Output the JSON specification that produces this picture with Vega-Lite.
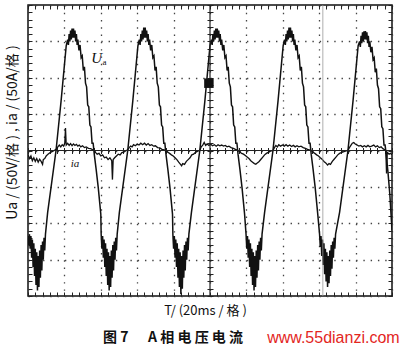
{
  "$schema": "https://vega.github.io/schema/vega-lite/v6.json",
  "width": 364,
  "height": 291,
  "autosize": {"type": "none"},
  "padding": {"left": 28, "top": 5, "right": 10, "bottom": 56},
  "background": "white",
  "config": {"view": {"stroke": "#111", "strokeWidth": 1.5}},
  "datasets": {
    "uk": [
      {"x":0,"y":-2.35},{"x":0.02,"y":-2.6},{"x":0.04,"y":-2.3},{"x":0.06,"y":-2.7},{"x":0.08,"y":-2.35},{"x":0.1,"y":-2.95},{"x":0.12,"y":-2.45},{"x":0.14,"y":-3.2},{"x":0.16,"y":-2.55},{"x":0.18,"y":-3.45},{"x":0.2,"y":-2.7},{"x":0.22,"y":-3.7},{"x":0.24,"y":-2.8},{"x":0.26,"y":-3.85},{"x":0.28,"y":-2.9},{"x":0.3,"y":-3.75},{"x":0.32,"y":-2.75},{"x":0.34,"y":-3.5},{"x":0.36,"y":-2.6},{"x":0.38,"y":-3.3},{"x":0.4,"y":-2.5},{"x":0.42,"y":-3.0},{"x":0.44,"y":-2.4},{"x":0.46,"y":-2.75},{"x":0.48,"y":-2.3},
      {"x":0.54,"y":-1.7},{"x":0.77,"y":0},{"x":0.91,"y":1.37},{"x":1.05,"y":2.88},
      {"x":1.09,"y":3.05},{"x":1.11,"y":2.9},{"x":1.13,"y":3.2},{"x":1.15,"y":3.0},{"x":1.17,"y":3.3},{"x":1.19,"y":3.05},{"x":1.21,"y":3.35},{"x":1.23,"y":3.1},{"x":1.25,"y":3.35},{"x":1.27,"y":3.1},{"x":1.29,"y":3.3},{"x":1.31,"y":3.0},{"x":1.33,"y":3.2},{"x":1.35,"y":2.9},{"x":1.37,"y":3.05},{"x":1.4,"y":2.75},{"x":1.43,"y":2.9},{"x":1.46,"y":2.55},{"x":1.49,"y":2.6},{"x":1.52,"y":2.2},{"x":1.55,"y":2.3},{"x":1.58,"y":1.85},{"x":1.61,"y":1.75},{"x":1.64,"y":1.25},{"x":1.67,"y":1.2},{"x":1.7,"y":0.7},{"x":1.73,"y":0.65},{"x":1.76,"y":0.2},{"x":1.79,"y":0.2},{"x":1.82,"y":-0.1},{"x":1.87,"y":-0.5},{"x":1.93,"y":-1.02},{"x":2.0,"y":-1.75},
      {"x":2.01,"y":-2.3},{"x":2.03,"y":-2.7},{"x":2.05,"y":-2.35},{"x":2.07,"y":-2.95},{"x":2.09,"y":-2.45},{"x":2.11,"y":-3.2},{"x":2.13,"y":-2.55},{"x":2.15,"y":-3.45},{"x":2.17,"y":-2.7},{"x":2.19,"y":-3.7},{"x":2.21,"y":-2.8},{"x":2.23,"y":-3.85},{"x":2.25,"y":-2.9},{"x":2.27,"y":-3.75},{"x":2.29,"y":-2.75},{"x":2.31,"y":-3.5},{"x":2.33,"y":-2.6},{"x":2.35,"y":-3.3},{"x":2.37,"y":-2.5},{"x":2.39,"y":-3.0},{"x":2.41,"y":-2.4},{"x":2.43,"y":-2.75},{"x":2.45,"y":-2.3},
      {"x":2.51,"y":-1.7},{"x":2.74,"y":0},{"x":2.88,"y":1.37},{"x":3.02,"y":2.88},
      {"x":3.06,"y":3.05},{"x":3.08,"y":2.9},{"x":3.1,"y":3.2},{"x":3.12,"y":3.0},{"x":3.14,"y":3.3},{"x":3.16,"y":3.05},{"x":3.18,"y":3.38},{"x":3.2,"y":3.1},{"x":3.22,"y":3.38},{"x":3.24,"y":3.1},{"x":3.26,"y":3.3},{"x":3.28,"y":3.0},{"x":3.3,"y":3.2},{"x":3.32,"y":2.9},{"x":3.34,"y":3.05},{"x":3.37,"y":2.75},{"x":3.4,"y":2.9},{"x":3.43,"y":2.55},{"x":3.46,"y":2.6},{"x":3.49,"y":2.2},{"x":3.52,"y":2.3},{"x":3.55,"y":1.85},{"x":3.58,"y":1.75},{"x":3.61,"y":1.25},{"x":3.64,"y":1.2},{"x":3.67,"y":0.7},{"x":3.7,"y":0.65},{"x":3.73,"y":0.2},{"x":3.76,"y":0.2},{"x":3.79,"y":-0.1},{"x":3.84,"y":-0.5},{"x":3.9,"y":-1.02},{"x":3.97,"y":-1.75},
      {"x":3.98,"y":-2.3},{"x":4.0,"y":-2.7},{"x":4.02,"y":-2.35},{"x":4.04,"y":-2.95},{"x":4.06,"y":-2.45},{"x":4.08,"y":-3.2},{"x":4.1,"y":-2.55},{"x":4.12,"y":-3.5},{"x":4.14,"y":-2.7},{"x":4.16,"y":-3.75},{"x":4.18,"y":-2.8},{"x":4.2,"y":-3.95},{"x":4.22,"y":-2.9},{"x":4.24,"y":-3.8},{"x":4.26,"y":-2.75},{"x":4.28,"y":-3.5},{"x":4.3,"y":-2.6},{"x":4.32,"y":-3.3},{"x":4.34,"y":-2.5},{"x":4.36,"y":-3.0},{"x":4.38,"y":-2.4},{"x":4.4,"y":-2.75},{"x":4.42,"y":-2.3},
      {"x":4.49,"y":-1.7},{"x":4.72,"y":0},{"x":4.86,"y":1.37},{"x":5.0,"y":2.88},
      {"x":5.04,"y":3.05},{"x":5.06,"y":2.9},{"x":5.08,"y":3.2},{"x":5.1,"y":3.0},{"x":5.12,"y":3.3},{"x":5.14,"y":3.05},{"x":5.16,"y":3.35},{"x":5.18,"y":3.1},{"x":5.2,"y":3.35},{"x":5.22,"y":3.1},{"x":5.24,"y":3.3},{"x":5.26,"y":3.0},{"x":5.28,"y":3.2},{"x":5.3,"y":2.9},{"x":5.32,"y":3.05},{"x":5.35,"y":2.75},{"x":5.38,"y":2.9},{"x":5.41,"y":2.55},{"x":5.44,"y":2.6},{"x":5.47,"y":2.2},{"x":5.5,"y":2.3},{"x":5.53,"y":1.85},{"x":5.56,"y":1.75},{"x":5.59,"y":1.25},{"x":5.62,"y":1.2},{"x":5.65,"y":0.7},{"x":5.68,"y":0.65},{"x":5.71,"y":0.2},{"x":5.74,"y":0.2},{"x":5.77,"y":-0.1},{"x":5.82,"y":-0.5},{"x":5.88,"y":-1.02},{"x":5.95,"y":-1.75},
      {"x":5.99,"y":-2.3},{"x":6.01,"y":-2.7},{"x":6.03,"y":-2.35},{"x":6.05,"y":-2.95},{"x":6.07,"y":-2.45},{"x":6.09,"y":-3.2},{"x":6.11,"y":-2.55},{"x":6.13,"y":-3.45},{"x":6.15,"y":-2.7},{"x":6.17,"y":-3.7},{"x":6.19,"y":-2.8},{"x":6.21,"y":-3.85},{"x":6.23,"y":-2.9},{"x":6.25,"y":-3.75},{"x":6.27,"y":-2.75},{"x":6.29,"y":-3.5},{"x":6.31,"y":-2.6},{"x":6.33,"y":-3.3},{"x":6.35,"y":-2.5},{"x":6.37,"y":-3.0},{"x":6.39,"y":-2.4},{"x":6.41,"y":-2.75},{"x":6.43,"y":-2.3},
      {"x":6.5,"y":-1.7},{"x":6.73,"y":0},{"x":6.87,"y":1.37},{"x":7.01,"y":2.88},
      {"x":7.05,"y":3.05},{"x":7.07,"y":2.9},{"x":7.09,"y":3.2},{"x":7.11,"y":3.0},{"x":7.13,"y":3.3},{"x":7.15,"y":3.05},{"x":7.17,"y":3.38},{"x":7.19,"y":3.1},{"x":7.21,"y":3.38},{"x":7.23,"y":3.1},{"x":7.25,"y":3.3},{"x":7.27,"y":3.0},{"x":7.29,"y":3.2},{"x":7.31,"y":2.9},{"x":7.33,"y":3.05},{"x":7.36,"y":2.75},{"x":7.39,"y":2.9},{"x":7.42,"y":2.55},{"x":7.45,"y":2.6},{"x":7.48,"y":2.2},{"x":7.51,"y":2.3},{"x":7.54,"y":1.85},{"x":7.57,"y":1.75},{"x":7.6,"y":1.25},{"x":7.63,"y":1.2},{"x":7.66,"y":0.7},{"x":7.69,"y":0.65},{"x":7.72,"y":0.2},{"x":7.75,"y":0.2},{"x":7.78,"y":-0.1},{"x":7.83,"y":-0.5},{"x":7.89,"y":-1.02},{"x":7.96,"y":-1.75},
      {"x":8.01,"y":-2.3},{"x":8.03,"y":-2.65},{"x":8.05,"y":-2.35},{"x":8.07,"y":-2.9},{"x":8.09,"y":-2.45},{"x":8.11,"y":-3.15},{"x":8.13,"y":-2.55},{"x":8.15,"y":-3.4},{"x":8.17,"y":-2.7},{"x":8.19,"y":-3.6},{"x":8.21,"y":-2.8},{"x":8.23,"y":-3.75},{"x":8.25,"y":-2.9},{"x":8.27,"y":-3.65},{"x":8.29,"y":-2.75},{"x":8.31,"y":-3.45},{"x":8.33,"y":-2.6},{"x":8.35,"y":-3.25},{"x":8.37,"y":-2.5},{"x":8.39,"y":-2.95},{"x":8.41,"y":-2.4},{"x":8.43,"y":-2.7},{"x":8.45,"y":-2.3},
      {"x":8.56,"y":-1.7},{"x":8.79,"y":0},{"x":8.93,"y":1.37},{"x":9.07,"y":2.88},
      {"x":9.11,"y":3.0},{"x":9.13,"y":2.85},{"x":9.15,"y":3.15},{"x":9.17,"y":2.95},{"x":9.19,"y":3.25},{"x":9.21,"y":3.0},{"x":9.23,"y":3.28},{"x":9.25,"y":3.05},{"x":9.27,"y":3.28},{"x":9.29,"y":3.05},{"x":9.31,"y":3.25},{"x":9.33,"y":2.95},{"x":9.35,"y":3.15},{"x":9.37,"y":2.85},{"x":9.39,"y":3.0},{"x":9.42,"y":2.7},{"x":9.45,"y":2.85},{"x":9.48,"y":2.5},{"x":9.51,"y":2.55},{"x":9.54,"y":2.15},{"x":9.57,"y":2.25},{"x":9.6,"y":1.8},{"x":9.63,"y":1.7},{"x":9.66,"y":1.2},{"x":9.69,"y":1.15},{"x":9.72,"y":0.65},{"x":9.75,"y":0.6},{"x":9.78,"y":0.15},{"x":9.81,"y":0.15},{"x":9.84,"y":-0.1},{"x":9.89,"y":-0.6},{"x":9.94,"y":-1.2},{"x":10,"y":-2.2}
    ],
    "ia": [
      {"x":0,"y":-0.12},{"x":0.04,"y":-0.22},{"x":0.08,"y":-0.15},{"x":0.12,"y":-0.28},{"x":0.16,"y":-0.2},{"x":0.2,"y":-0.3},{"x":0.24,"y":-0.22},{"x":0.28,"y":-0.32},{"x":0.32,"y":-0.24},{"x":0.36,"y":-0.3},{"x":0.4,"y":-0.38},{"x":0.42,"y":-0.25},{"x":0.46,"y":-0.22},{"x":0.5,"y":-0.15},{"x":0.55,"y":-0.1},{"x":0.6,"y":-0.06},{"x":0.66,"y":-0.03},{"x":0.72,"y":0},{"x":0.77,"y":0.03},
      {"x":0.82,"y":0.1},{"x":0.86,"y":0.15},{"x":0.9,"y":0.1},{"x":0.94,"y":0.16},{"x":0.98,"y":0.12},{"x":1.01,"y":0.2},{"x":1.03,"y":0.62},{"x":1.05,"y":0.15},{"x":1.09,"y":0.2},{"x":1.13,"y":0.14},{"x":1.17,"y":0.19},{"x":1.21,"y":0.13},{"x":1.25,"y":0.18},{"x":1.29,"y":0.14},{"x":1.33,"y":0.17},{"x":1.37,"y":0.12},{"x":1.41,"y":0.15},{"x":1.45,"y":0.1},{"x":1.5,"y":0.13},{"x":1.55,"y":0.08},{"x":1.6,"y":0.1},{"x":1.66,"y":0.06},{"x":1.72,"y":0.05},{"x":1.78,"y":0.02},{"x":1.82,"y":0},
      {"x":1.86,"y":-0.06},{"x":1.9,"y":-0.1},{"x":1.95,"y":-0.08},{"x":2.0,"y":-0.15},{"x":2.05,"y":-0.12},{"x":2.1,"y":-0.2},{"x":2.15,"y":-0.18},{"x":2.2,"y":-0.25},{"x":2.25,"y":-0.2},{"x":2.3,"y":-0.28},{"x":2.32,"y":-0.8},{"x":2.34,"y":-0.25},{"x":2.38,"y":-0.2},{"x":2.43,"y":-0.15},{"x":2.48,"y":-0.1},{"x":2.53,"y":-0.12},{"x":2.58,"y":-0.06},{"x":2.64,"y":-0.04},{"x":2.7,"y":0},{"x":2.74,"y":0.02},
      {"x":2.78,"y":0.08},{"x":2.82,"y":0.12},{"x":2.86,"y":0.1},{"x":2.9,"y":0.16},{"x":2.95,"y":0.13},{"x":3.0,"y":0.18},{"x":3.05,"y":0.15},{"x":3.1,"y":0.2},{"x":3.15,"y":0.16},{"x":3.2,"y":0.2},{"x":3.25,"y":0.15},{"x":3.3,"y":0.19},{"x":3.35,"y":0.14},{"x":3.4,"y":0.16},{"x":3.45,"y":0.12},{"x":3.5,"y":0.13},{"x":3.56,"y":0.08},{"x":3.62,"y":0.07},{"x":3.68,"y":0.03},{"x":3.74,"y":0.02},{"x":3.79,"y":0},
      {"x":3.84,"y":-0.05},{"x":3.89,"y":-0.08},{"x":3.94,"y":-0.12},{"x":3.99,"y":-0.15},{"x":4.04,"y":-0.2},{"x":4.09,"y":-0.25},{"x":4.14,"y":-0.32},{"x":4.19,"y":-0.38},{"x":4.22,"y":-0.42},{"x":4.25,"y":-0.36},{"x":4.3,"y":-0.38},{"x":4.35,"y":-0.3},{"x":4.4,"y":-0.25},{"x":4.45,"y":-0.2},{"x":4.5,"y":-0.12},{"x":4.55,"y":-0.1},{"x":4.6,"y":-0.05},{"x":4.66,"y":-0.02},{"x":4.72,"y":0},
      {"x":4.76,"y":0.1},{"x":4.8,"y":0.15},{"x":4.84,"y":0.22},{"x":4.88,"y":0.14},{"x":4.92,"y":0.18},{"x":4.97,"y":0.14},{"x":5.02,"y":0.17},{"x":5.07,"y":0.13},{"x":5.12,"y":0.16},{"x":5.17,"y":0.12},{"x":5.22,"y":0.16},{"x":5.27,"y":0.13},{"x":5.32,"y":0.15},{"x":5.37,"y":0.12},{"x":5.42,"y":0.14},{"x":5.47,"y":0.1},{"x":5.52,"y":0.12},{"x":5.58,"y":0.08},{"x":5.64,"y":0.06},{"x":5.7,"y":0.03},{"x":5.77,"y":0},
      {"x":5.82,"y":-0.04},{"x":5.87,"y":-0.08},{"x":5.92,"y":-0.1},{"x":5.97,"y":-0.14},{"x":6.02,"y":-0.18},{"x":6.07,"y":-0.22},{"x":6.12,"y":-0.28},{"x":6.17,"y":-0.32},{"x":6.22,"y":-0.36},{"x":6.26,"y":-0.38},{"x":6.3,"y":-0.34},{"x":6.35,"y":-0.3},{"x":6.4,"y":-0.24},{"x":6.45,"y":-0.18},{"x":6.5,"y":-0.12},{"x":6.55,"y":-0.08},{"x":6.6,"y":-0.05},{"x":6.66,"y":-0.02},{"x":6.73,"y":0},
      {"x":6.77,"y":0.08},{"x":6.81,"y":0.14},{"x":6.85,"y":0.1},{"x":6.89,"y":0.16},{"x":6.94,"y":0.12},{"x":6.99,"y":0.15},{"x":7.04,"y":0.12},{"x":7.09,"y":0.16},{"x":7.14,"y":0.12},{"x":7.19,"y":0.15},{"x":7.24,"y":0.11},{"x":7.29,"y":0.14},{"x":7.34,"y":0.1},{"x":7.39,"y":0.13},{"x":7.44,"y":0.1},{"x":7.5,"y":0.12},{"x":7.56,"y":0.08},{"x":7.62,"y":0.06},{"x":7.68,"y":0.03},{"x":7.73,"y":0.02},{"x":7.78,"y":0},
      {"x":7.83,"y":-0.05},{"x":7.88,"y":-0.08},{"x":7.93,"y":-0.12},{"x":7.98,"y":-0.15},{"x":8.03,"y":-0.2},{"x":8.08,"y":-0.24},{"x":8.13,"y":-0.3},{"x":8.18,"y":-0.34},{"x":8.23,"y":-0.4},{"x":8.27,"y":-0.36},{"x":8.31,"y":-0.38},{"x":8.36,"y":-0.3},{"x":8.41,"y":-0.24},{"x":8.46,"y":-0.18},{"x":8.51,"y":-0.12},{"x":8.56,"y":-0.08},{"x":8.62,"y":-0.05},{"x":8.68,"y":-0.03},{"x":8.74,"y":-0.01},{"x":8.79,"y":0},
      {"x":8.83,"y":0.08},{"x":8.87,"y":0.14},{"x":8.91,"y":0.2},{"x":8.95,"y":0.22},{"x":8.99,"y":0.18},{"x":9.04,"y":0.15},{"x":9.09,"y":0.12},{"x":9.14,"y":0.14},{"x":9.19,"y":0.1},{"x":9.24,"y":0.13},{"x":9.29,"y":0.1},{"x":9.34,"y":0.14},{"x":9.39,"y":0.1},{"x":9.44,"y":0.12},{"x":9.5,"y":0.15},{"x":9.55,"y":0.1},{"x":9.6,"y":0.13},{"x":9.65,"y":0.08},{"x":9.7,"y":0.1},{"x":9.75,"y":0.05},{"x":9.8,"y":0.02},{"x":9.83,"y":0},{"x":9.85,"y":-0.63},{"x":9.87,"y":-0.05},{"x":9.92,"y":-0.1},{"x":9.96,"y":-0.08},{"x":10,"y":-0.12}
    ]
  },
  "resolve": {"axis": {"x": "independent", "y": "independent"}},
  "layer": [
    {
      "data": {"name": "uk"},
      "mark": {"type": "line", "color": "#111", "strokeWidth": 1.5, "clip": true},
      "encoding": {
        "x": {"field": "x", "type": "quantitative",
          "scale": {"domain": [0, 10], "nice": false, "zero": false},
          "axis": {"orient": "bottom", "values": [0,0.2,0.4,0.6,0.8,1,1.2,1.4,1.6,1.8,2,2.2,2.4,2.6,2.8,3,3.2,3.4,3.6,3.8,4,4.2,4.4,4.6,4.8,5,5.2,5.4,5.6,5.8,6,6.2,6.4,6.6,6.8,7,7.2,7.4,7.6,7.8,8,8.2,8.4,8.6,8.8,9,9.2,9.4,9.6,9.8,10],
            "labels": false, "domain": false, "tickSize": -4, "tickColor": "#222", "tickWidth": 1,
            "grid": true, "gridColor": "#444", "gridWidth": 1.3, "gridDash": [1.4, 5.88],
            "gridOpacity": {"condition": {"test": "abs(datum.value - round(datum.value)) > 0.01", "value": 0}, "value": 1},
            "title": "T/ (20ms / 格 )", "titleFont": "Noto Sans CJK SC", "titleFontSize": 13, "titleFontWeight": "normal", "titleColor": "#111",
            "titleX": 177, "titleY": 14, "titleBaseline": "middle", "titleAlign": "center"}},
        "y": {"field": "y", "type": "quantitative",
          "scale": {"domain": [-4, 4], "nice": false, "zero": false},
          "axis": {"orient": "left", "values": [-4,-3.8,-3.6,-3.4,-3.2,-3,-2.8,-2.6,-2.4,-2.2,-2,-1.8,-1.6,-1.4,-1.2,-1,-0.8,-0.6,-0.4,-0.2,0,0.2,0.4,0.6,0.8,1,1.2,1.4,1.6,1.8,2,2.2,2.4,2.6,2.8,3,3.2,3.4,3.6,3.8,4],
            "labels": false, "domain": false, "tickSize": -4, "tickColor": "#222", "tickWidth": 1,
            "grid": true, "gridColor": "#444", "gridWidth": 1.3, "gridDash": [1.4, 5.88],
            "gridOpacity": {"condition": {"test": "abs(datum.value - round(datum.value)) > 0.01", "value": 0}, "value": 1},
            "title": "Ua / (50V/格 ) ,  ia / (50A/格 )", "titleFont": "Noto Sans CJK SC", "titleFontSize": 14, "titleFontWeight": "normal", "titleColor": "#111",
            "titleX": -16, "titleY": 127, "titleAngle": -90, "titleBaseline": "middle", "titleAlign": "center"}}
      }
    },
    {
      "data": {"name": "ia"},
      "mark": {"type": "line", "color": "#111", "strokeWidth": 1.3, "clip": true},
      "encoding": {
        "x": {"field": "x", "type": "quantitative",
          "axis": {"orient": "top", "values": [0,0.2,0.4,0.6,0.8,1,1.2,1.4,1.6,1.8,2,2.2,2.4,2.6,2.8,3,3.2,3.4,3.6,3.8,4,4.2,4.4,4.6,4.8,5,5.2,5.4,5.6,5.8,6,6.2,6.4,6.6,6.8,7,7.2,7.4,7.6,7.8,8,8.2,8.4,8.6,8.8,9,9.2,9.4,9.6,9.8,10],
            "labels": false, "domain": false, "tickSize": -4, "tickColor": "#222", "grid": false, "title": null}},
        "y": {"field": "y", "type": "quantitative",
          "axis": {"orient": "right", "values": [-4,-3.8,-3.6,-3.4,-3.2,-3,-2.8,-2.6,-2.4,-2.2,-2,-1.8,-1.6,-1.4,-1.2,-1,-0.8,-0.6,-0.4,-0.2,0,0.2,0.4,0.6,0.8,1,1.2,1.4,1.6,1.8,2,2.2,2.4,2.6,2.8,3,3.2,3.4,3.6,3.8,4],
            "labels": false, "domain": false, "tickSize": -4, "tickColor": "#222", "grid": false, "title": null}}
      }
    },
    {
      "data": {"name": "ia"},
      "mark": {"type": "point", "opacity": 0},
      "encoding": {
        "x": {"field": "x", "type": "quantitative",
          "axis": {"orient": "bottom", "offset": -148.5, "values": [0,0.2,0.4,0.6,0.8,1,1.2,1.4,1.6,1.8,2,2.2,2.4,2.6,2.8,3,3.2,3.4,3.6,3.8,4,4.2,4.4,4.6,4.8,5,5.2,5.4,5.6,5.8,6,6.2,6.4,6.6,6.8,7,7.2,7.4,7.6,7.8,8,8.2,8.4,8.6,8.8,9,9.2,9.4,9.6,9.8,10],
            "labels": false, "domain": false, "tickSize": 6, "tickColor": "#222", "grid": false, "title": null}},
        "y": {"field": "y", "type": "quantitative",
          "axis": {"orient": "left", "offset": -185, "values": [-4,-3.8,-3.6,-3.4,-3.2,-3,-2.8,-2.6,-2.4,-2.2,-2,-1.8,-1.6,-1.4,-1.2,-1,-0.8,-0.6,-0.4,-0.2,0,0.2,0.4,0.6,0.8,1,1.2,1.4,1.6,1.8,2,2.2,2.4,2.6,2.8,3,3.2,3.4,3.6,3.8,4],
            "labels": false, "domain": false, "tickSize": 6, "tickColor": "#222", "grid": false, "title": null}}
      }
    },
    {
      "data": {"values": [{}]},
      "mark": {"type": "rule", "color": "#222", "strokeWidth": 1.2},
      "encoding": {"y": {"datum": 0, "type": "quantitative", "axis": null}}
    },
    {
      "data": {"values": [{}]},
      "mark": {"type": "rule", "color": "#222", "strokeWidth": 1.2},
      "encoding": {"x": {"datum": 5, "type": "quantitative", "axis": null}}
    },
    {
      "data": {"values": [{}]},
      "mark": {"type": "rule", "color": "#9a9a9a", "strokeWidth": 0.8},
      "encoding": {"x": {"datum": 8.1, "type": "quantitative", "axis": null}}
    },
    {
      "data": {"values": [{}]},
      "mark": {"type": "point", "shape": "square", "filled": true, "color": "#111", "size": 90, "opacity": 1},
      "encoding": {"x": {"datum": 4.97, "type": "quantitative", "axis": null}, "y": {"datum": 1.85, "type": "quantitative", "axis": null}}
    },
    {
      "data": {"values": [{}]},
      "mark": {"type": "text", "text": "U", "font": "Liberation Serif", "fontStyle": "italic", "fontSize": 15, "color": "#111", "align": "left", "baseline": "middle"},
      "encoding": {"x": {"datum": 1.74, "type": "quantitative", "axis": null}, "y": {"datum": 2.55, "type": "quantitative", "axis": null}}
    },
    {
      "data": {"values": [{}]},
      "mark": {"type": "text", "text": "a", "font": "Liberation Serif", "fontSize": 9, "color": "#111", "align": "left", "baseline": "middle"},
      "encoding": {"x": {"datum": 2.05, "type": "quantitative", "axis": null}, "y": {"datum": 2.42, "type": "quantitative", "axis": null}}
    },
    {
      "data": {"values": [{}]},
      "mark": {"type": "text", "text": "ia", "font": "Liberation Serif", "fontStyle": "italic", "fontSize": 11, "color": "#111", "align": "center", "baseline": "middle"},
      "encoding": {"x": {"datum": 1.29, "type": "quantitative", "axis": null}, "y": {"datum": -0.36, "type": "quantitative", "axis": null}}
    },
    {
      "data": {"values": [{}]},
      "mark": {"type": "text", "text": "图 7", "font": "Noto Sans CJK SC", "fontWeight": "bold", "fontSize": 14, "color": "#111", "align": "left", "baseline": "middle", "clip": false},
      "encoding": {"x": {"datum": 2.06, "type": "quantitative", "axis": null}, "y": {"datum": -5.16, "type": "quantitative", "axis": null}}
    },
    {
      "data": {"values": [{}]},
      "mark": {"type": "text", "text": "A 相 电 压 电 流", "font": "Noto Sans CJK SC", "fontWeight": "bold", "fontSize": 14, "color": "#111", "align": "left", "baseline": "middle", "clip": false},
      "encoding": {"x": {"datum": 3.3, "type": "quantitative", "axis": null}, "y": {"datum": -5.16, "type": "quantitative", "axis": null}}
    },
    {
      "data": {"values": [{}]},
      "mark": {"type": "text", "text": "www.55dianzi.com", "font": "Liberation Sans", "fontSize": 16, "color": "#e3261e", "align": "left", "baseline": "middle", "clip": false},
      "encoding": {"x": {"datum": 6.57, "type": "quantitative", "axis": null}, "y": {"datum": -5.16, "type": "quantitative", "axis": null}}
    }
  ]
}
